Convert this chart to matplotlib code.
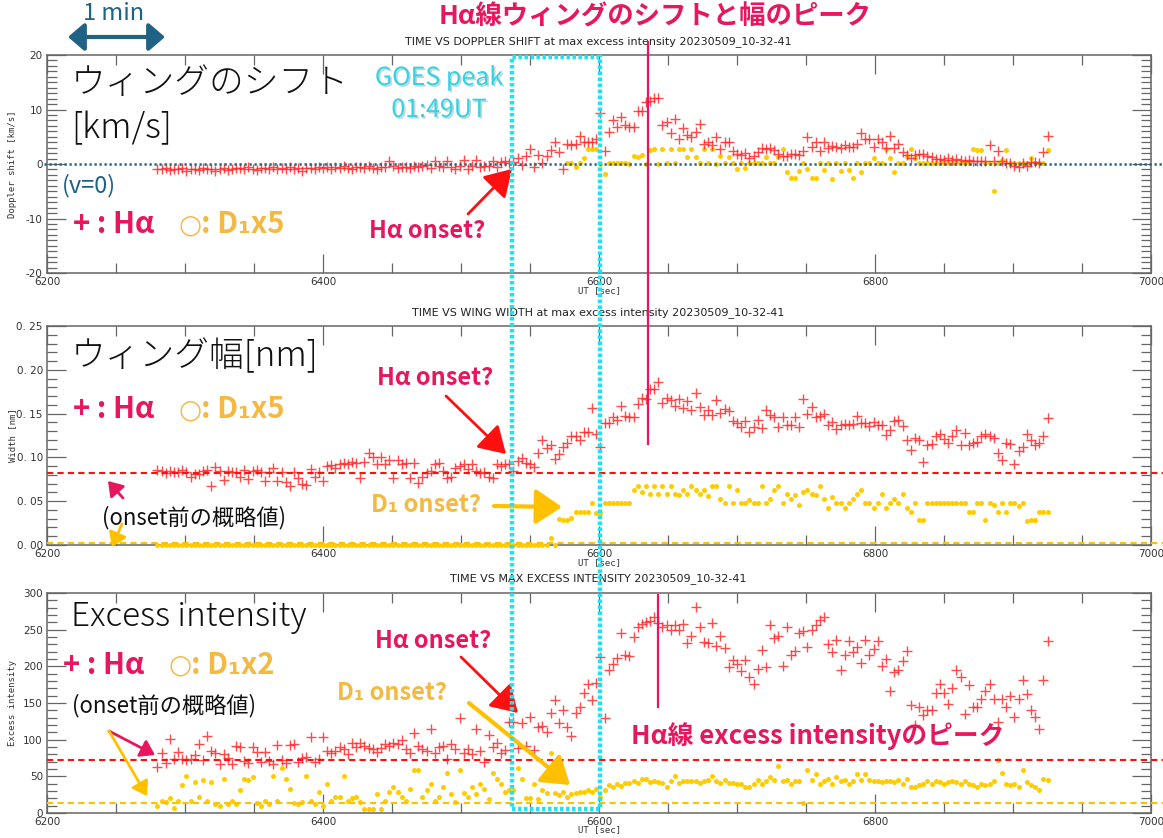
import numpy as np
import matplotlib
matplotlib.use("Agg")
import matplotlib.pyplot as plt
from matplotlib.lines import Line2D
from matplotlib.patches import Rectangle, FancyArrowPatch
from matplotlib.ticker import MultipleLocator, FixedLocator, FuncFormatter
import matplotlib.patheffects as pe

# ---------------------------------------------------------------- data
# observation times [s UT], 3 s cadence
ut_sec = 6280 + 3 * np.arange(216)

# H-alpha wing Doppler shift [km/s]
ha_shift = [
    -0.9, -1.0, -0.8, -1.1, -0.9, -1.0, -0.8, -1.2, -0.9, -1.0, -1.1, -0.8, -1.0, -0.9, -1.2, -1.0, -0.8, -1.1, -0.9, -0.7,
    -0.8, -1.0, -0.6, -0.9, -1.1, -0.7, -0.8, -1.0, -0.5, -0.9, -0.8, -1.0, -0.6, -0.9, -0.8, -1.2, -0.7, -0.8, -0.9, -0.6,
    -0.7, -0.5, -0.9, -0.6, -0.8, -0.4, -0.7, -0.9, -0.5, -0.6, -0.8, -0.3, -0.7, -0.9, -0.5, -0.6, 0.5, -0.4, -0.8, -0.6,
    -0.5, -0.7, -0.3, -0.6, -0.4, -0.2, -0.7, 0.6, -0.3, -0.5, 0.5, -0.6, -1.0, -0.4, 0.7, -1.0, -0.3, 0.8, -0.5, -0.4,
    -0.4, 0.5, -0.6, 0.3, 0.5, 0.1, 0.4, 1.1, -0.1, 1.5, 2.7, -0.5, 1.7, 0.1, 1.5, 2.5, 4.1, 2.2, -0.9, 3.6,
    3.4, 3.7, 5.1, 4.1, 4.1, 4.0, 4.6, 9.4, 2.3, 5.9, 8.0, 6.8, 8.6, 7.1, 6.8, 6.8, 9.7, 9.7, 11.4, 11.5,
    12.1, 12.1, 7.2, 7.7, 5.6, 8.3, 4.5, 6.6, 5.4, 5.0, 5.9, 7.4, 3.6, 4.0, 3.4, 5.0, 2.7, 4.1, 4.0, 2.3,
    1.9, 1.7, 2.1, 1.1, 1.5, 2.2, 2.9, 2.8, 2.9, 2.5, 1.9, 1.4, 1.4, 1.8, 1.9, 1.6, 2.4, 4.9, 3.2, 4.0,
    2.3, 4.0, 3.0, 3.3, 3.2, 2.9, 3.4, 3.2, 3.2, 3.7, 5.7, 4.6, 4.6, 3.2, 4.5, 4.1, 3.0, 5.2, 3.0, 3.7,
    2.2, 1.6, 1.1, 1.6, 1.8, 1.8, 1.5, 1.2, 0.9, 1.0, 0.8, 1.1, 0.7, 1.0, 0.8, 0.6, 0.7, 0.6, 0.6, 0.6,
    0.6, 3.4, 0.6, 2.3, 0.6, 0.2, 0.1, -0.4, -0.5, 0.2, -0.4, 0.3, 0.4, 0.2, 2.2, 5.2,
]

# D1 Doppler shift (x5) [km/s]; no fit before the D1 onset
d1_shift = [np.nan] * 99 + [
    0.2,
    0.2, -0.6, 0.2, 1.1, 2.8, 2.8, 2.8, 0.0, -1.9, 0.1, 0.1, 0.2, 0.1, 0.1, 0.0, 1.4, 1.3, 1.6, 0.0, 2.5,
    2.7, 0.0, 2.7, 0.1, 2.7, 0.1, 2.8, 2.7, 1.2, 2.8, 1.2, 0.1, 2.8, 0.1, 2.8, 0.0, 1.5, 0.1, 1.3, 0.1,
    -1.0, 0.1, -0.7, 0.1, 0.1, 0.1, 0.1, 1.2, 0.1, 0.1, 1.2, 2.8, -1.4, -2.5, -2.6, -1.3, 0.1, -1.0, -2.5, -2.6,
    0.2, -1.1, 0.1, -2.8, 0.2, -1.3, 0.1, -1.1, -2.6, 0.1, -1.4, 0.1, 0.1, 1.1, 0.1, 0.1, 2.8, 1.1, -1.4, 0.1,
    0.1, 1.4, 2.8, 1.1, 0.1, 0.1, 0.1, 0.1, 0.2, 0.1, 0.1, 0.1, 0.1, 0.1, 0.2, 0.1, 0.1, 2.8, 2.5, 2.5,
    0.1, 0.1, -4.9, 0.1, 0.7, 2.5, 0.2, 0.1, 0.2, 0.1, 0.1, 1.1, 0.1, 0.1, 0.1, 2.5,
]

# H-alpha wing width [nm]
ha_width = [
    0.086, 0.084, 0.082, 0.084, 0.083, 0.083, 0.086, 0.083, 0.078, 0.081, 0.081, 0.084, 0.086, 0.067, 0.089, 0.084, 0.074, 0.084, 0.083, 0.083,
    0.078, 0.086, 0.075, 0.084, 0.086, 0.083, 0.073, 0.083, 0.088, 0.073, 0.083, 0.072, 0.067, 0.083, 0.076, 0.070, 0.069, 0.087, 0.078, 0.083,
    0.073, 0.090, 0.091, 0.088, 0.093, 0.094, 0.092, 0.095, 0.094, 0.076, 0.095, 0.105, 0.101, 0.092, 0.101, 0.092, 0.097, 0.076, 0.097, 0.093,
    0.094, 0.076, 0.094, 0.071, 0.078, 0.082, 0.084, 0.093, 0.094, 0.084, 0.076, 0.078, 0.088, 0.090, 0.092, 0.087, 0.092, 0.084, 0.082, 0.083,
    0.078, 0.077, 0.093, 0.090, 0.092, 0.093, 0.084, 0.096, 0.099, 0.094, 0.092, 0.089, 0.105, 0.120, 0.111, 0.114, 0.098, 0.104, 0.112, 0.116,
    0.124, 0.124, 0.120, 0.129, 0.129, 0.156, 0.127, 0.112, 0.139, 0.139, 0.146, 0.143, 0.159, 0.147, 0.146, 0.146, 0.161, 0.168, 0.167, 0.178,
    0.178, 0.186, 0.162, 0.168, 0.166, 0.159, 0.167, 0.156, 0.164, 0.154, 0.173, 0.158, 0.148, 0.154, 0.148, 0.166, 0.151, 0.155, 0.153, 0.141,
    0.139, 0.135, 0.141, 0.129, 0.135, 0.143, 0.133, 0.154, 0.148, 0.146, 0.135, 0.146, 0.137, 0.137, 0.146, 0.135, 0.167, 0.150, 0.158, 0.146,
    0.147, 0.150, 0.137, 0.140, 0.132, 0.137, 0.138, 0.137, 0.138, 0.147, 0.139, 0.139, 0.136, 0.140, 0.137, 0.137, 0.126, 0.131, 0.141, 0.143,
    0.136, 0.120, 0.108, 0.122, 0.120, 0.095, 0.114, 0.115, 0.125, 0.127, 0.121, 0.117, 0.124, 0.131, 0.114, 0.128, 0.114, 0.116, 0.118, 0.124,
    0.127, 0.124, 0.122, 0.105, 0.097, 0.116, 0.115, 0.093, 0.107, 0.112, 0.127, 0.120, 0.114, 0.116, 0.124, 0.145,
]

# D1 wing width (x5) [nm]
d1_width = [0.0] * 95 + [
    0.008, 0.0, 0.030, 0.028, 0.029,
    0.031, 0.038, 0.038, 0.038, 0.038, 0.048, 0.037, 0.037, 0.048, 0.048, 0.048, 0.048, 0.048, 0.048, 0.048, 0.063, 0.067, 0.061, 0.067, 0.058,
    0.067, 0.058, 0.067, 0.058, 0.067, 0.058, 0.057, 0.063, 0.058, 0.067, 0.063, 0.058, 0.063, 0.056, 0.067, 0.067, 0.052, 0.048, 0.067, 0.048,
    0.063, 0.048, 0.048, 0.051, 0.048, 0.048, 0.067, 0.048, 0.052, 0.063, 0.067, 0.048, 0.058, 0.053, 0.057, 0.046, 0.061, 0.063, 0.058, 0.057,
    0.067, 0.052, 0.042, 0.055, 0.048, 0.048, 0.042, 0.048, 0.052, 0.058, 0.063, 0.048, 0.048, 0.042, 0.048, 0.058, 0.042, 0.048, 0.052, 0.048,
    0.058, 0.042, 0.038, 0.048, 0.028, 0.028, 0.048, 0.048, 0.048, 0.048, 0.048, 0.048, 0.048, 0.048, 0.048, 0.048, 0.038, 0.038, 0.048, 0.048,
    0.028, 0.048, 0.046, 0.038, 0.048, 0.038, 0.048, 0.048, 0.044, 0.048, 0.027, 0.029, 0.028, 0.038, 0.038, 0.038,
]

# H-alpha maximum excess intensity
ha_excess = [
    63, 82, 68, 101, 73, 83, 74, 72, 73, 79, 94, 72, 105, 85, 82, 67, 81, 75, 67, 91,
    90, 71, 68, 90, 83, 69, 83, 71, 67, 93, 72, 68, 93, 94, 69, 75, 76, 104, 69, 74,
    104, 85, 82, 85, 90, 87, 80, 96, 90, 95, 92, 89, 87, 83, 89, 94, 91, 95, 94, 99,
    87, 82, 109, 92, 87, 85, 115, 82, 90, 92, 74, 94, 87, 129, 82, 87, 80, 114, 85, 70,
    106, 90, 95, 82, 86, 124, 124, 88, 123, 91, 131, 86, 117, 118, 110, 137, 154, 123, 140, 117,
    105, 136, 145, 164, 176, 154, 177, 213, 129, 195, 203, 212, 246, 216, 214, 240, 254, 258, 261, 262,
    267, 259, 254, 257, 250, 256, 249, 258, 232, 241, 281, 254, 233, 232, 259, 228, 241, 225, 199, 208,
    203, 193, 209, 185, 176, 197, 222, 199, 257, 238, 242, 201, 253, 215, 221, 245, 248, 226, 250, 256,
    263, 267, 230, 220, 236, 195, 215, 234, 220, 227, 204, 236, 215, 224, 235, 201, 210, 166, 192, 195,
    207, 221, 147, 120, 144, 133, 141, 140, 163, 176, 164, 149, 171, 195, 186, 135, 174, 145, 144, 156,
    166, 176, 156, 124, 155, 144, 160, 131, 155, 182, 162, 140, 131, 114, 182, 235,
]

# D1 maximum excess intensity (x2)
d1_excess = [
    9, 17, 15, 20, 7, 17, 38, 51, 17, 42, 22, 45, 17, 42, 12, 10, 47, 12, 17, 12,
    32, 47, 45, 49, 13, 10, 17, 12, 51, 17, 62, 47, 33, 13, 12, 15, 50, 17, 12, 29,
    10, 40, 17, 22, 22, 51, 17, 20, 22, 15, 5, 5, 5, 26, 5, 17, 29, 36, 29, 22,
    17, 33, 58, 59, 22, 31, 40, 17, 22, 35, 54, 26, 15, 58, 27, 22, 35, 26, 40, 33,
    19, 54, 47, 40, 29, 32, 31, 61, 47, 20, 20, 39, 19, 31, 27, 82, 27, 24, 29, 22,
    26, 27, 28, 29, 31, 29, 33, 22, 32, 38, 36, 40, 37, 41, 41, 43, 41, 47, 46, 42,
    43, 42, 41, 36, 43, 50, 41, 44, 43, 44, 43, 41, 43, 45, 50, 43, 41, 45, 41, 41,
    39, 39, 36, 36, 39, 45, 40, 44, 49, 45, 64, 44, 45, 40, 44, 44, 13, 58, 45, 53,
    40, 44, 47, 40, 49, 44, 45, 40, 44, 53, 45, 53, 45, 44, 44, 42, 44, 44, 42, 45,
    40, 47, 36, 35, 38, 40, 44, 39, 44, 42, 40, 42, 44, 42, 40, 44, 40, 38, 36, 40,
    38, 40, 44, 72, 54, 40, 38, 40, 35, 59, 42, 38, 35, 32, 47, 45,
]

# pre-onset reference levels
ha_width_base = 0.082
d1_width_base = 0.002
ha_excess_base = 72
d1_excess_base = 14

panel_titles = [
    "TIME VS DOPPLER SHIFT at max excess intensity 20230509_10-32-41",
    "TIME VS WING WIDTH at max excess intensity 20230509_10-32-41",
    "TIME VS MAX EXCESS INTENSITY 20230509_10-32-41",
]
panel_ylabels = ["Doppler shift [km/s]", "Width [nm]", "Excess intensity"]
x_ticks = [6200, 6400, 6600, 6800, 7000]

# ---------------------------------------------------------------- style
W, H = 1163, 838
JP = ["Noto Sans CJK JP", "DejaVu Sans"]
TICKFONT = ["Liberation Sans Narrow", "DejaVu Sans"]
CRIMSON = "#e8175d"
RED = "#ff1010"
ORANGE_TXT = "#f4b942"
ORANGE = "#ffc000"
CYAN = "#1ee3f2"
TEAL = "#1f6284"
HA_COL = "#ff2a2a"
D1_COL = "#ffcc00"
AXCOL = "#666666"

fig = plt.figure(figsize=(W / 100, H / 100), dpi=100)
fig.patch.set_facecolor("white")


def fx(x):
    return x / W


def fy(y):
    return 1 - y / H


def ftext(x, y, s, **kw):
    kw.setdefault("ha", "left")
    kw.setdefault("va", "center")
    return fig.text(fx(x), fy(y), s, **kw)


def farrow(x0, y0, x1, y1, color, lw=2.0, hl=0.9, hw=0.55, ms=18, style="-|>"):
    a = FancyArrowPatch((fx(x0), fy(y0)), (fx(x1), fy(y1)), transform=fig.transFigure,
                        arrowstyle=f"{style},head_length={hl},head_width={hw}",
                        color=color, lw=lw, mutation_scale=ms, shrinkA=0, shrinkB=0,
                        zorder=6)
    fig.add_artist(a)


def fline(x0, y0, x1, y1, **kw):
    fig.add_artist(Line2D([fx(x0), fx(x1)], [fy(y0), fy(y1)], transform=fig.transFigure, **kw))


def legend_key(x, y, factor):
    # "+ : Hα   ○: D1xN" key written on the panel
    ftext(x, y, "+ : Hα", fontsize=21, family=JP, color=CRIMSON, fontweight="bold")
    ftext(x + 106, y + 1, "○", fontsize=19, family="DejaVu Sans", color=ORANGE_TXT)
    ftext(x + 128, y, f": D₁x{factor}", fontsize=21, family=JP, color=ORANGE_TXT,
          fontweight="bold")


def style_axis(ax, ylim, ymajor, yminor, yfmt):
    ax.set_xlim(6200, 7000)
    ax.set_ylim(*ylim)
    ax.xaxis.set_major_locator(FixedLocator(x_ticks))
    ax.xaxis.set_minor_locator(MultipleLocator(50))
    ax.xaxis.set_major_formatter(FuncFormatter(lambda v, p: f"{v:.0f}"))
    ax.yaxis.set_major_locator(MultipleLocator(ymajor))
    ax.yaxis.set_minor_locator(MultipleLocator(yminor))
    ax.yaxis.set_major_formatter(FuncFormatter(yfmt))
    ax.tick_params(which="both", direction="in", top=True, right=True, color=AXCOL,
                   width=0.9, labelsize=7.5, labelcolor="#333333", pad=3)
    ax.tick_params(which="major", length=14)
    ax.tick_params(which="minor", length=7)
    for sp in ax.spines.values():
        sp.set_color(AXCOL)
        sp.set_linewidth(1.1)


left, width = 47 / W, 1104 / W
ax1 = fig.add_axes([left, fy(273), width, 218 / H])
ax2 = fig.add_axes([left, fy(545), width, 219 / H])
ax3 = fig.add_axes([left, fy(813), width, 220 / H])

# Doppler shift panel
ax1.plot(ut_sec, d1_shift, "o", color=D1_COL, ms=3.6, mec="none", zorder=3)
ax1.plot(ut_sec, ha_shift, "+", color=HA_COL, ms=6.5, mew=1.0, alpha=0.85, zorder=4)
style_axis(ax1, (-20, 20), 10, 1, lambda v, p: f"{v:.0f}")
ax1.plot([-0.003, 1.011], [0, 0], transform=ax1.get_yaxis_transform(), color=TEAL,
         lw=1.8, ls=(0, (0.9, 1.1)), clip_on=False, zorder=5)

# Wing width panel
ax2.plot(ut_sec, d1_width, "o", color=D1_COL, ms=3.6, mec="none", zorder=3, clip_on=False)
ax2.plot(ut_sec, ha_width, "+", color=HA_COL, ms=6.5, mew=1.0, alpha=0.85, zorder=4)
style_axis(ax2, (0, 0.25), 0.05, 0.01, lambda v, p: "0. %02d" % round(v * 100))
ax2.plot([0, 1.011], [ha_width_base] * 2, transform=ax2.get_yaxis_transform(), color=RED,
         lw=1.5, ls=(0, (3, 2)), clip_on=False, zorder=5)
ax2.plot([0, 1.011], [d1_width_base] * 2, transform=ax2.get_yaxis_transform(), color=ORANGE,
         lw=1.5, ls=(0, (3, 2)), clip_on=False, zorder=5)

# Excess intensity panel
ax3.plot(ut_sec, d1_excess, "o", color=D1_COL, ms=3.6, mec="none", zorder=3)
ax3.plot(ut_sec, ha_excess, "+", color=HA_COL, ms=6.5, mew=1.0, alpha=0.85, zorder=4)
style_axis(ax3, (0, 300), 50, 10, lambda v, p: f"{v:.0f}")
ax3.plot([0, 1.011], [ha_excess_base] * 2, transform=ax3.get_yaxis_transform(), color=RED,
         lw=1.5, ls=(0, (3, 2)), clip_on=False, zorder=5)
ax3.plot([0, 1.011], [d1_excess_base] * 2, transform=ax3.get_yaxis_transform(), color=ORANGE,
         lw=1.5, ls=(0, (3, 2)), clip_on=False, zorder=5)

fig.canvas.draw()
for ax in (ax1, ax2, ax3):
    for lab in ax.get_xticklabels() + ax.get_yticklabels():
        lab.set_family(TICKFONT)

# titles and axis labels
for ytop, title in zip((42, 313, 579), panel_titles):
    ftext(598, ytop, title, ha="center", fontsize=8, color="#222222")
for ymid, lab in zip((164, 435, 703), panel_ylabels):
    ftext(13, ymid, lab, ha="center", rotation=90, fontsize=6.5, family="DejaVu Sans Mono",
          color="#333333")
for ylab in (291, 563, 830):
    ftext(599, ylab, "UT [sec]", ha="center", fontsize=6.5, family="DejaVu Sans Mono",
          color="#333333")

# ---------------------------------------------------------------- overlays
# GOES peak window
fig.add_artist(Rectangle((fx(512), fy(809)), (600 - 512) / W, (809 - 57) / H,
                         transform=fig.transFigure, fill=False, edgecolor=CYAN, lw=3.2,
                         ls=(0, (0.8, 0.55)), zorder=7))

# peak markers
fline(648, 42, 648, 444, color=CRIMSON, lw=1.6, zorder=7)
fline(658, 595, 658, 707, color=CRIMSON, lw=1.6, zorder=7)

# header
ftext(655, 17, "Hα線ウィングのシフトと幅のピーク", ha="center", fontsize=19, family=JP,
      color=CRIMSON, fontweight="bold")
ftext(114, 13, "1 min", ha="center", fontsize=17, family=JP, color=TEAL)
farrow(68, 37, 165, 37, TEAL, lw=3.0, hl=0.7, hw=0.6, ms=14, style="<|-|>")

# panel 1 annotations
ftext(71, 83, "ウィングのシフト", fontsize=25, family=JP, color="#111111", fontweight="light")
ftext(71, 128, "[km/s]", fontsize=25, family=JP, color="#111111", fontweight="light")
shadow = [pe.withSimplePatchShadow(offset=(1.2, -1.2), shadow_rgbFace="#7fa6b0", alpha=0.45)]
ftext(439, 78, "GOES peak", ha="center", fontsize=18, family=JP, color="#33d3e3",
      path_effects=shadow)
ftext(439, 110, "01:49UT", ha="center", fontsize=18, family=JP, color="#33d3e3",
      path_effects=shadow)
ftext(62, 186, "(v=0)", fontsize=17, family=JP, color=TEAL)
legend_key(73, 224, 5)
ftext(369, 231, "Hα onset?", fontsize=17, family=JP, color=CRIMSON, fontweight="bold")
farrow(468, 214, 512, 169, RED, lw=2.0)

# panel 2 annotations
ftext(71, 356, "ウィング幅[nm]", fontsize=25, family=JP, color="#111111", fontweight="light")
legend_key(73, 409, 5)
ftext(377, 378, "Hα onset?", fontsize=17, family=JP, color=CRIMSON, fontweight="bold")
farrow(446, 396, 506, 454, RED, lw=2.0)
farrow(123, 498, 108, 481, CRIMSON, lw=2.0, hl=0.6, hw=0.4, ms=14)
ftext(102, 518, "(onset前の概略値)", fontsize=16, family=JP, color="#111111")
farrow(122, 524, 112, 547, ORANGE, lw=2.0, hl=0.6, hw=0.4, ms=14)
ftext(371, 505, "D₁ onset?", fontsize=17, family=JP, color=ORANGE_TXT, fontweight="bold")
farrow(494, 506, 562, 507, ORANGE, lw=3.0, hl=0.9, hw=0.6, ms=18)

# panel 3 annotations
ftext(71, 617, "Excess intensity", fontsize=24, family=JP, color="#111111", fontweight="light")
legend_key(63, 665, 2)
ftext(72, 706, "(onset前の概略値)", fontsize=16, family=JP, color="#111111")
farrow(109, 731, 155, 755, CRIMSON, lw=2.0, hl=0.6, hw=0.4, ms=14)
farrow(109, 731, 147, 796, ORANGE, lw=2.0, hl=0.6, hw=0.4, ms=14)
ftext(375, 641, "Hα onset?", fontsize=17, family=JP, color=CRIMSON, fontweight="bold")
farrow(461, 657, 518, 713, RED, lw=2.0)
ftext(337, 693, "D₁ onset?", fontsize=17, family=JP, color=ORANGE_TXT, fontweight="bold")
farrow(469, 703, 570, 785, ORANGE, lw=3.0, hl=0.9, hw=0.6, ms=18)
ftext(631, 736, "Hα線 excess intensityのピーク", fontsize=18.5, family=JP, color=CRIMSON,
      fontweight="bold")

fig.savefig("out.png", dpi=100)
